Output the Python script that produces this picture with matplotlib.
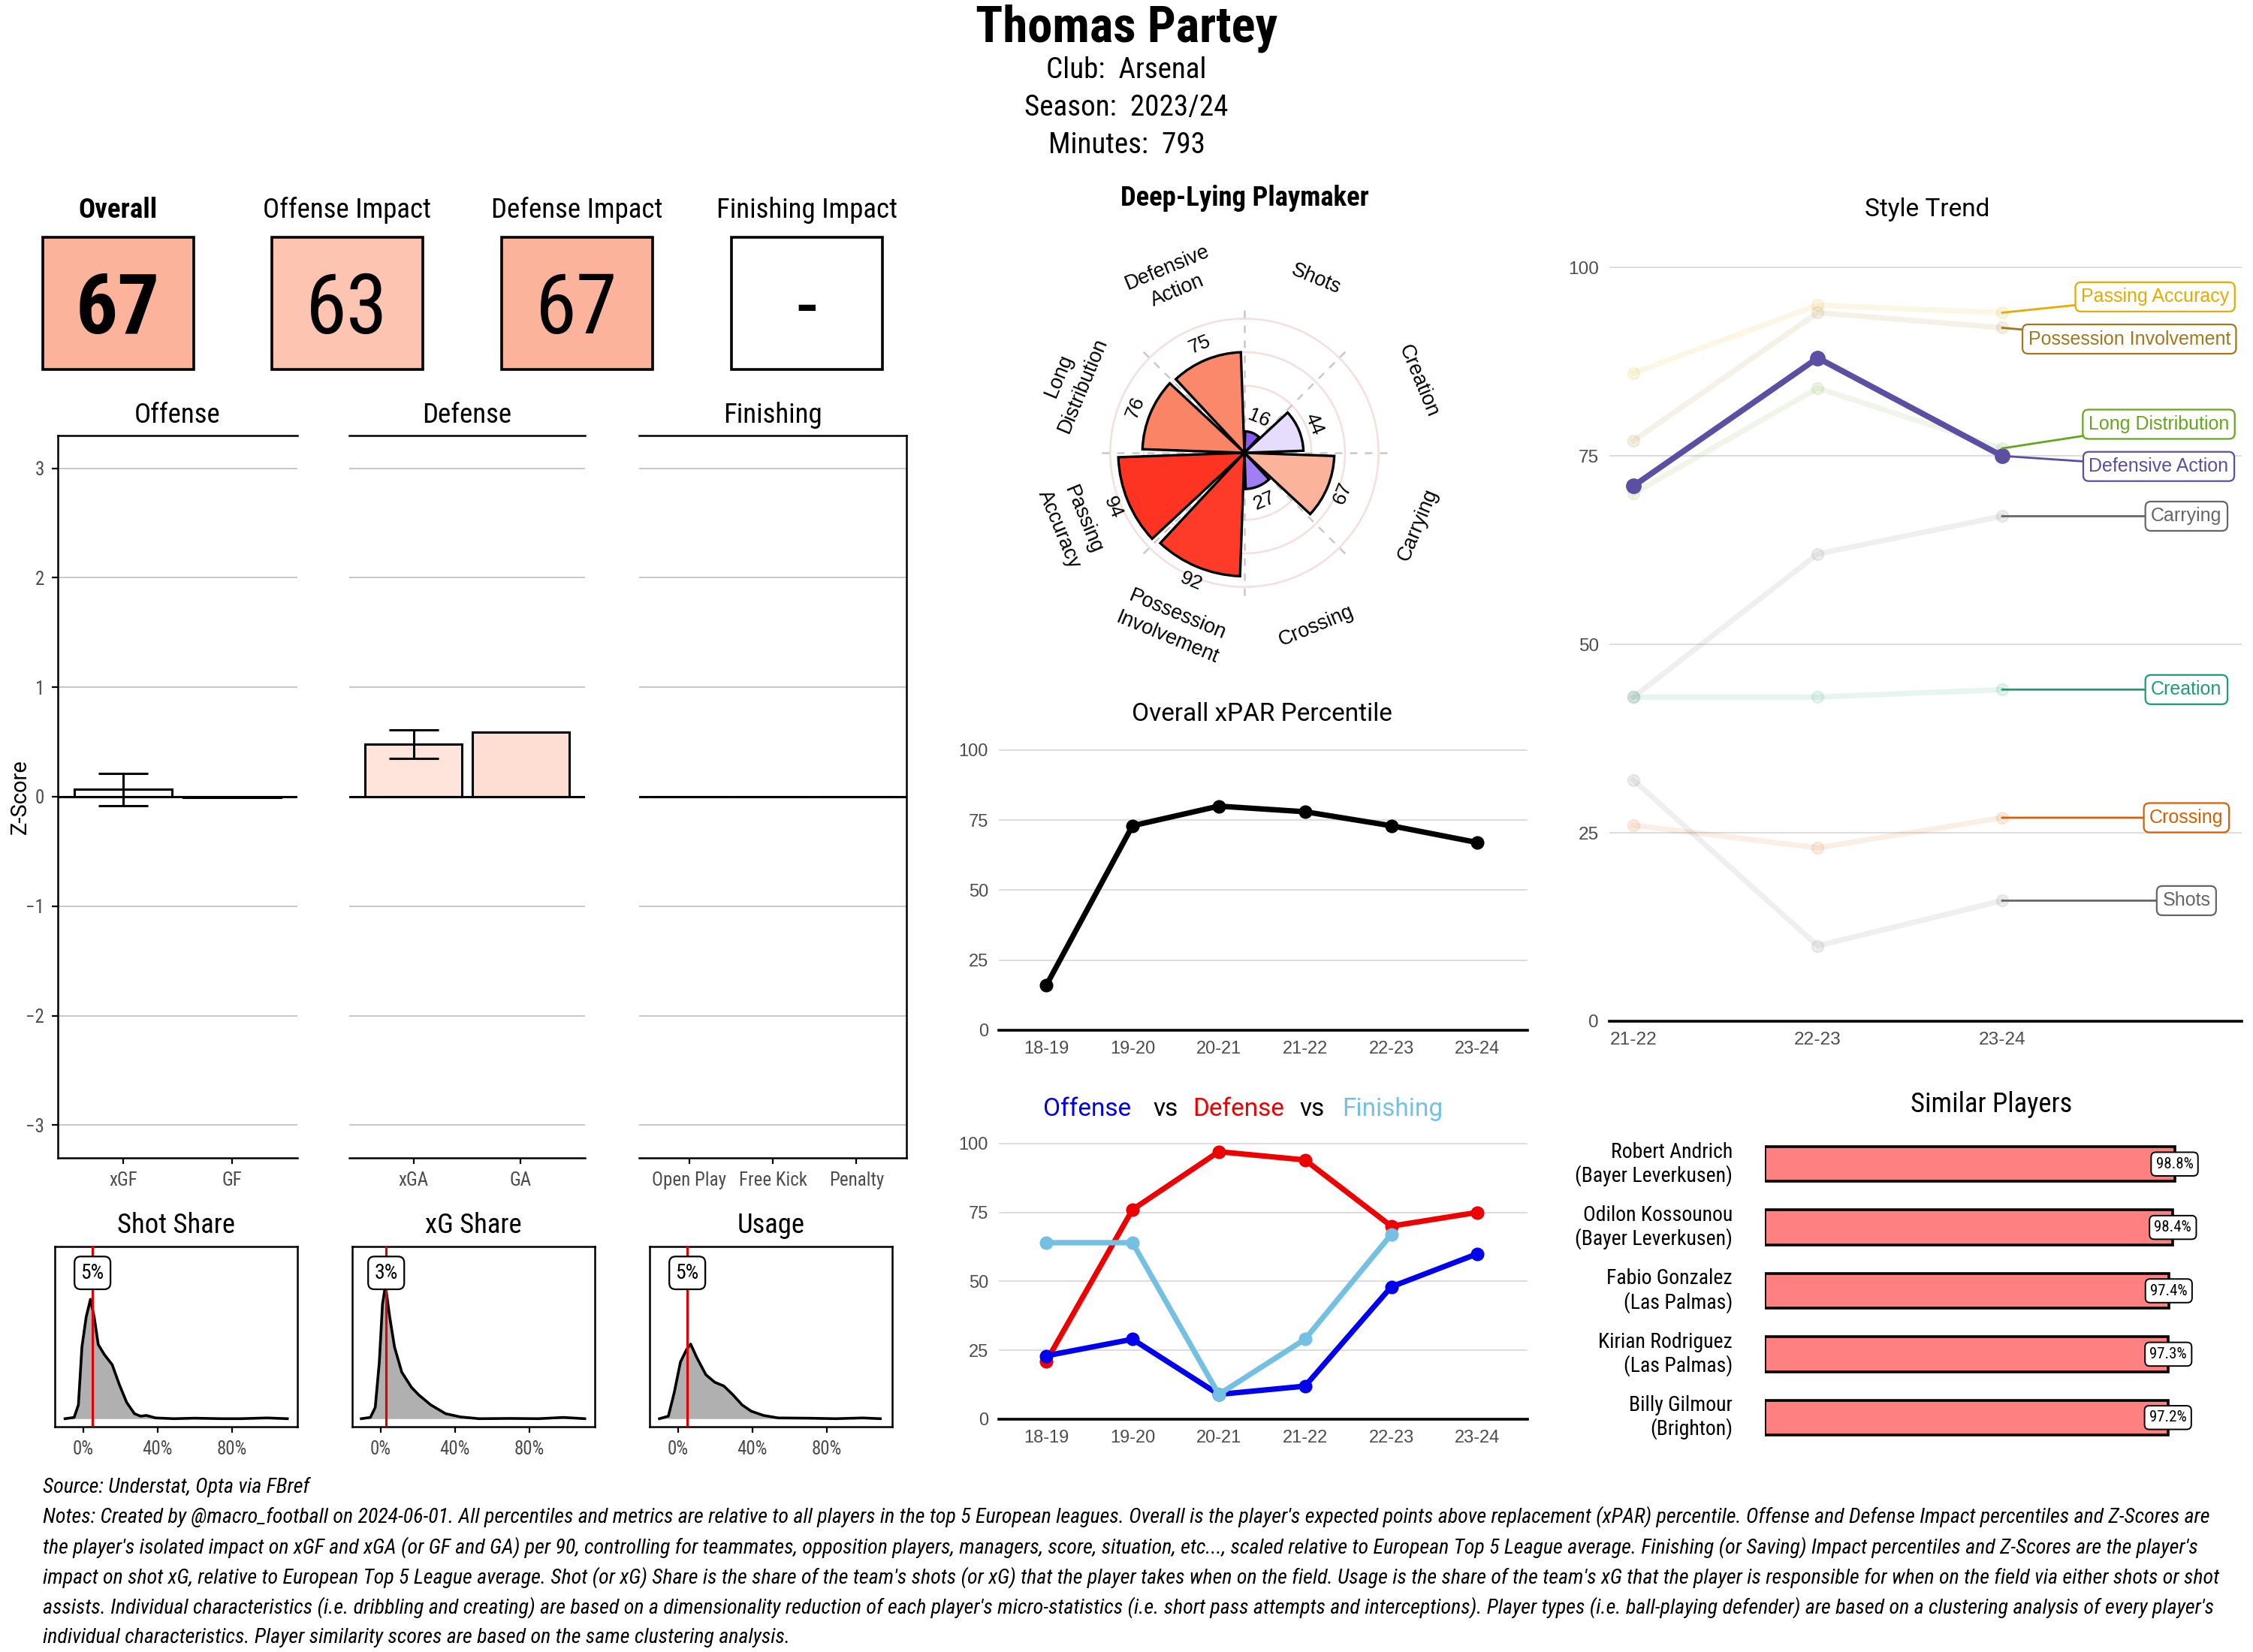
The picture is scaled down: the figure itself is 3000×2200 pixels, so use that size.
import numpy as np
import matplotlib as mpl
mpl.use('Agg')
import matplotlib.pyplot as plt
from matplotlib import font_manager as fm
from matplotlib.patches import Rectangle
from matplotlib.colors import LinearSegmentedColormap

# fonts
names = {f.name for f in fm.fontManager.ttflist}
def pick(*fams):
    for f in fams:
        if f in names:
            return f
    return 'DejaVu Sans'
COND = pick('Roboto Condensed', 'Liberation Sans Narrow', 'Roboto')
SANS = pick('Liberation Sans', 'Roboto')
ROBO = pick('Roboto', 'Liberation Sans')

# ---------------- data ----------------
player = 'Thomas Partey'
club = 'Arsenal'
season = '2023/24'
minutes = 793

box_labels = ['Overall', 'Offense Impact', 'Defense Impact', 'Finishing Impact']
box_values = [67, 63, 67, None]

off_cats = ['xGF', 'GF']
off_z = [0.07, -0.01]
off_err = (-0.08, 0.21)
def_cats = ['xGA', 'GA']
def_z = [0.48, 0.59]
def_err = (0.35, 0.61)
fin_cats = ['Open Play', 'Free Kick', 'Penalty']
fin_z = [0.0, 0.0, 0.0]

shot_x = [-0.098, -0.049, -0.026, -0.007, 0.016, 0.039, 0.059, 0.081, 0.114, 0.156, 0.195,
          0.234, 0.276, 0.309, 0.34, 0.39, 0.488, 0.60, 0.75, 0.846, 0.99, 1.10]
shot_y = [0, 0.05, 0.55, 2.85, 4.05, 4.75, 4.05, 2.95, 2.55, 2.15, 1.35,
          0.65, 0.2, 0.1, 0.13, 0.03, 0.0, 0.02, 0.0, 0.0, 0.03, 0.0]
xg_x = [-0.104, -0.055, -0.029, -0.007, 0.01, 0.026, 0.049, 0.075, 0.114, 0.166, 0.205,
        0.27, 0.35, 0.43, 0.53, 0.70, 0.85, 0.985, 1.10]
xg_y = [0, 0.05, 0.45, 2.25, 4.55, 5.3, 4.05, 2.85, 1.85, 1.25, 0.95,
        0.55, 0.2, 0.07, 0.0, 0.01, 0.0, 0.05, 0.0]
use_x = [-0.10, -0.052, -0.02, 0.013, 0.046, 0.068, 0.10, 0.15, 0.198, 0.247, 0.296,
         0.345, 0.394, 0.46, 0.54, 0.70, 0.85, 0.995, 1.09]
use_y = [0, 0.1, 1.05, 2.25, 2.75, 2.97, 2.45, 1.75, 1.45, 1.3, 0.95,
         0.55, 0.3, 0.13, 0.03, 0.02, 0.0, 0.03, 0.0]
share_titles = ['Shot Share', 'xG Share', 'Usage']
share_player = [0.05, 0.03, 0.05]

player_type = 'Deep-Lying Playmaker'
style_cats = ['Shots', 'Creation', 'Carrying', 'Crossing', 'Possession\nInvolvement',
              'Passing\nAccuracy', 'Long\nDistribution', 'Defensive\nAction']
style_vals = [16, 44, 67, 27, 92, 94, 76, 75]

trend_seasons = ['21-22', '22-23', '23-24']
trend_names = ['Passing Accuracy', 'Possession Involvement', 'Long Distribution', 'Defensive Action',
               'Carrying', 'Creation', 'Crossing', 'Shots']
trend_vals = [[86, 95, 94],
              [77, 94, 92],
              [70, 84, 76],
              [71, 88, 75],
              [43, 62, 67],
              [43, 43, 44],
              [26, 23, 27],
              [32, 10, 16]]
trend_colors = ['#E6AB02', '#A6761D', '#66A61E', '#5C4FA3', '#666666', '#1B9E77', '#D95F02', '#666666']
highlight = 'Defensive Action'

seasons = ['18-19', '19-20', '20-21', '21-22', '22-23', '23-24']
xpar = [16, 73, 80, 78, 73, 67]
off_pct = [23, 29, 9, 12, 48, 60]
def_pct = [21, 76, 97, 94, 70, 75]
fin_pct = [64, 64, 9, 29, 67, np.nan]

sim_names = ['Robert Andrich\n(Bayer Leverkusen)', 'Odilon Kossounou\n(Bayer Leverkusen)',
             'Fabio Gonzalez\n(Las Palmas)', 'Kirian Rodriguez\n(Las Palmas)', 'Billy Gilmour\n(Brighton)']
sim_vals = [98.8, 98.4, 97.4, 97.3, 97.2]

source = 'Source: Understat, Opta via FBref'
notes = [
    "Notes: Created by @macro_football on 2024-06-01. All percentiles and metrics are relative to all players in the top 5 European leagues. Overall is the player's expected points above replacement (xPAR) percentile. Offense and Defense Impact percentiles and Z-Scores are",
    "the player's isolated impact on xGF and xGA (or GF and GA) per 90, controlling for teammates, opposition players, managers, score, situation, etc..., scaled relative to European Top 5 League average. Finishing (or Saving) Impact percentiles and Z-Scores are the player's",
    "impact on shot xG, relative to European Top 5 League average. Shot (or xG) Share is the share of the team's shots (or xG) that the player takes when on the field. Usage is the share of the team's xG that the player is responsible for when on the field via either shots or shot",
    "assists. Individual characteristics (i.e. dribbling and creating) are based on a dimensionality reduction of each player's micro-statistics (i.e. short pass attempts and interceptions). Player types (i.e. ball-playing defender) are based on a clustering analysis of every player's",
    "individual characteristics. Player similarity scores are based on the same clustering analysis.",
]

# ---------------- layout helpers ----------------
W, H = 3000, 2200
def R(x0, y0, x1, y1):
    return [x0 / W, 1 - y1 / H, (x1 - x0) / W, (y1 - y0) / H]
def FX(x):
    return x / W
def FY(y):
    return 1 - y / H

pct_cmap = LinearSegmentedColormap.from_list('pct', [
    (0.0, '#7040F0'), (0.16, '#8A5CF0'), (0.27, '#A07EF4'), (0.44, '#E6DCFB'), (0.5, '#FFFFFF'),
    (0.67, '#FCB39B'), (0.76, '#FA8466'), (0.94, '#FF3322'), (1.0, '#FF2A18')])

fig = plt.figure(figsize=(15, 11), dpi=200)
fig.patch.set_facecolor('white')

# header
fig.text(0.5, FY(38), player, ha='center', va='center', fontsize=24, fontweight='bold', family=COND)
for y, s in zip([94, 144, 194], ['Club:  ' + club, 'Season:  ' + season, 'Minutes:  ' + str(minutes)]):
    fig.text(0.5, FY(y), s, ha='center', va='center', fontsize=14.1, family=COND)

# top percentile boxes
box_x0 = [57, 362, 668, 974]
for i, (lab, val) in enumerate(zip(box_labels, box_values)):
    x0 = box_x0[i]
    fig.text(FX(x0 + 100), FY(280), lab, ha='center', va='center', fontsize=13.3, family=COND,
             fontweight='bold' if i == 0 else 'normal')
    fc = pct_cmap(val / 100) if val is not None else 'white'
    fig.patches.append(Rectangle((FX(x0), FY(492)), 201 / W, 176 / H, transform=fig.transFigure,
                                 fc=fc, ec='black', lw=1.3))
    txt = str(val) if val is not None else '-'
    fig.text(FX(x0 + 100), FY(444), txt, ha='center', va='baseline', fontsize=40, family=COND,
             fontweight='bold' if i == 0 else 'normal')

# z-score panels
tick_col = '#4D4D4D'
panels = [((77, 580, 396, 1542), 'Offense', off_cats, off_z, off_err),
          ((465, 580, 779, 1542), 'Defense', def_cats, def_z, def_err),
          ((851, 580, 1207, 1542), 'Finishing', fin_cats, fin_z, None)]
for k, (rp, title, cats, vals, err) in enumerate(panels):
    ax = fig.add_axes(R(*rp))
    n = len(cats)
    ax.set_xlim(-0.6, n - 0.4)
    ax.set_ylim(-3.3, 3.3)
    for yv in [-3, -2, -1, 0, 1, 2, 3]:
        ax.axhline(yv, color='#BEBEBE', lw=0.6, zorder=0)
    fills = [pct_cmap(0.5 + max(v, 0) * 0.13) for v in vals]
    ax.bar(range(n), vals, width=0.9, color=fills, edgecolor='black', lw=1.1, zorder=2)
    ax.axhline(0, color='black', lw=1.1, zorder=3)
    if err is not None:
        ax.errorbar([0], [vals[0]], yerr=[[vals[0] - err[0]], [err[1] - vals[0]]], fmt='none',
                    ecolor='black', elinewidth=1.1, capsize=12, capthick=1.1, zorder=4)
    ax.set_xticks(range(n), cats)
    ax.set_yticks([-3, -2, -1, 0, 1, 2, 3])
    ax.tick_params(axis='both', labelsize=9, colors=tick_col, length=3, width=0.8)
    ax.tick_params(axis='both', color='black')
    for lab in ax.get_xticklabels() + ax.get_yticklabels():
        lab.set_family(COND)
    ax.spines['left'].set_visible(k == 0)
    ax.spines['right'].set_visible(k == 2)
    for sp in ax.spines.values():
        sp.set_linewidth(0.9)
    if k != 0:
        ax.tick_params(axis='y', left=False, labelleft=False)
    fig.text(FX((rp[0] + rp[2]) / 2), FY(553), title, ha='center', va='center', fontsize=13.3, family=COND)
fig.text(FX(27), FY(1061), 'Z-Score', ha='center', va='center', rotation=90, fontsize=10.5, family=ROBO)

# share densities
dens = [((73, 1660, 396, 1900), shot_x, shot_y), ((469, 1660, 792, 1900), xg_x, xg_y),
        ((865, 1660, 1188, 1900), use_x, use_y)]
for k, (rp, dx, dy) in enumerate(dens):
    ax = fig.add_axes(R(*rp))
    ax.fill_between(dx, dy, color='#B0B0B0', lw=0, zorder=1)
    ax.plot(dx, dy, color='black', lw=1.3, zorder=2)
    v = share_player[k]
    ax.axvline(v, color='#E00000', lw=1.1, zorder=3)
    ax.text(v, 5.8, f'{round(v * 100)}%', ha='center', va='center', fontsize=10, family=COND, zorder=4,
            bbox=dict(boxstyle='round,pad=0.3', fc='white', ec='black', lw=0.8))
    ax.set_xlim(-0.153, 1.154)
    ax.set_ylim(-0.32, 6.85)
    ax.set_xticks([0, 0.4, 0.8], ['0%', '40%', '80%'])
    ax.set_yticks([])
    ax.tick_params(axis='x', labelsize=9, colors=tick_col, length=3, width=0.8)
    ax.tick_params(axis='x', color='black')
    for lab in ax.get_xticklabels():
        lab.set_family(COND)
    for sp in ax.spines.values():
        sp.set_linewidth(0.9)
    fig.text(FX((rp[0] + rp[2]) / 2), FY(1632), share_titles[k], ha='center', va='center',
             fontsize=13.2, family=COND)

# style polar chart
cx, cy, rpx = 1657, 603, 268
axp = fig.add_axes(R(cx - rpx, cy - rpx, cx + rpx, cy + rpx), projection='polar')
axp.set_theta_zero_location('N')
axp.set_theta_direction(-1)
axp.set_ylim(0, 150)
axp.set_axis_off()
tt = np.linspace(0, 2 * np.pi, 361)
for r in [25, 50, 75, 100]:
    axp.plot(tt, [r] * len(tt), color='#F5DEE0', lw=0.9, zorder=0)
for a in range(0, 360, 45):
    axp.plot([np.deg2rad(a)] * 2, [0, 112], color='#C8C8C8', lw=0.9, ls=(0, (4, 4)), zorder=0)
centers = np.deg2rad(22.5 + 45 * np.arange(len(style_vals)))
axp.bar(centers, style_vals, width=np.deg2rad(45 * 0.91), bottom=0,
        color=[pct_cmap(v / 100) for v in style_vals], edgecolor='black', lw=1.2, zorder=2)
for th, v, lab in zip(centers, style_vals, style_cats):
    deg = np.rad2deg(th)
    rot = (-deg + 90) % 180 - 90
    axp.text(th, v + 12, str(v), ha='center', va='center', rotation=rot, rotation_mode='anchor',
             fontsize=9.5, family=SANS, zorder=3)
    axp.text(th, 140, lab, ha='center', va='center', rotation=rot, rotation_mode='anchor',
             fontsize=9.7, family=SANS, linespacing=1.4)
fig.text(FX(cx), FY(264), player_type, ha='center', va='center', fontsize=13.2, fontweight='bold',
         family=COND)

# style trend
axt = fig.add_axes(R(2143, 306, 2985, 1360))
axt.set_xlim(-0.13, 3.3)
axt.set_ylim(0, 105)
for yv in [25, 50, 75, 100]:
    axt.axhline(yv, color='#DDDDDD', lw=0.7, zorder=0)
label_pos = {'Passing Accuracy': (2.83, 96.1), 'Possession Involvement': (2.69, 90.5),
             'Long Distribution': (2.85, 79.2), 'Defensive Action': (2.85, 73.6),
             'Carrying': (3.0, 67), 'Creation': (3.0, 44), 'Crossing': (3.0, 27), 'Shots': (3.0, 16)}
xs = np.arange(len(trend_seasons))
for name, vals, col in zip(trend_names, trend_vals, trend_colors):
    if name == highlight:
        axt.plot(xs, vals, color=col, lw=2.8, marker='o', ms=6.5, zorder=4)
    else:
        axt.plot(xs, vals, color=col, lw=2.6, marker='o', ms=5.5, alpha=0.1, zorder=2)
    lx, ly = label_pos[name]
    axt.annotate(name, xy=(xs[-1], vals[-1]), xytext=(lx, ly), ha='center', va='center',
                 fontsize=9, family=SANS, color=col, zorder=5,
                 bbox=dict(boxstyle='round,pad=0.3', fc='white', ec=col, lw=0.8),
                 arrowprops=dict(arrowstyle='-', color=col, lw=1.0, shrinkA=0, shrinkB=0))
axt.set_xticks(xs, trend_seasons)
axt.set_yticks([0, 25, 50, 75, 100])
axt.tick_params(length=0, labelsize=8.8, colors=tick_col, pad=5)
for lab in axt.get_xticklabels() + axt.get_yticklabels():
    lab.set_family(SANS)
for s in ['top', 'right', 'left']:
    axt.spines[s].set_visible(False)
axt.spines['bottom'].set_linewidth(1.3)
fig.text(FX(2566), FY(279), 'Style Trend', ha='center', va='center', fontsize=12, family=ROBO)

# percentile lines
def pct_axes(rp):
    ax = fig.add_axes(R(*rp))
    ax.set_xlim(-0.55, 5.58)
    ax.set_ylim(0, 104)
    for yv in [25, 50, 75, 100]:
        ax.axhline(yv, color='#DDDDDD', lw=0.7, zorder=0)
    ax.set_xticks(range(len(seasons)), seasons)
    ax.set_yticks([0, 25, 50, 75, 100])
    ax.tick_params(length=0, labelsize=8.5, colors=tick_col, pad=5)
    for lab in ax.get_xticklabels() + ax.get_yticklabels():
        lab.set_family(SANS)
    for s in ['top', 'right', 'left']:
        ax.spines[s].set_visible(False)
    ax.spines['bottom'].set_linewidth(1.3)
    return ax

axx = pct_axes((1330, 984, 2034, 1372))
axx.plot(range(len(seasons)), xpar, color='black', lw=2.6, marker='o', ms=5.5)
fig.text(FX(1680), FY(951), 'Overall xPAR Percentile', ha='center', va='center', fontsize=12, family=ROBO)

axo = pct_axes((1330, 1508, 2034, 1890))
axo.plot(range(len(seasons)), def_pct, color='#EE0000', lw=2.6, marker='o', ms=5.5, zorder=3)
axo.plot(range(len(seasons)), off_pct, color='#0000EE', lw=2.6, marker='o', ms=5.5, zorder=4)
axo.plot(range(len(seasons)), fin_pct, color='#74C0E3', lw=2.6, marker='o', ms=5.5, zorder=5)
for x, s, c in zip([1448, 1552, 1649, 1747, 1854], ['Offense', 'vs', 'Defense', 'vs', 'Finishing'],
                   ['#0000EE', 'black', '#EE0000', 'black', '#74C0E3']):
    fig.text(FX(x), FY(1477), s, ha='center', va='center', fontsize=12, family=ROBO, color=c)

# similar players
axs = fig.add_axes(R(2350, 1508, 2985, 1930))
axs.set_xlim(0, 115)
axs.set_ylim(len(sim_vals) - 0.5, -0.5)
axs.barh(range(len(sim_vals)), sim_vals, height=0.55, color='#FF8080', edgecolor='black', lw=1.3)
for i, (nm, v) in enumerate(zip(sim_names, sim_vals)):
    axs.text(-7.8, i, nm, ha='right', va='center', fontsize=10, family=COND, linespacing=1.15, clip_on=False)
    axs.text(v, i, f'{v}%', ha='center', va='center', fontsize=7.5, family=COND,
             bbox=dict(boxstyle='round,pad=0.3', fc='white', ec='black', lw=0.7))
axs.set_axis_off()
fig.text(FX(2652), FY(1471), 'Similar Players', ha='center', va='center', fontsize=13.2, family=COND)

# footer
src_txt = fig.text(FX(57), FY(1980), source, ha='left', va='center', fontsize=8.6, family=COND,
                   style='italic')
note_txt = [fig.text(FX(57), FY(2020 + 40.2 * i), s, ha='left', va='center', fontsize=8.6,
                     family=COND, style='italic') for i, s in enumerate(notes)]
rend = fig.canvas.get_renderer()
wmax = max(t.get_window_extent(rend).width for t in note_txt[:4])
fs = 8.6 * 2895 / wmax
for t in note_txt + [src_txt]:
    t.set_fontsize(fs)

fig.savefig('out.png', dpi=200, facecolor='white')
